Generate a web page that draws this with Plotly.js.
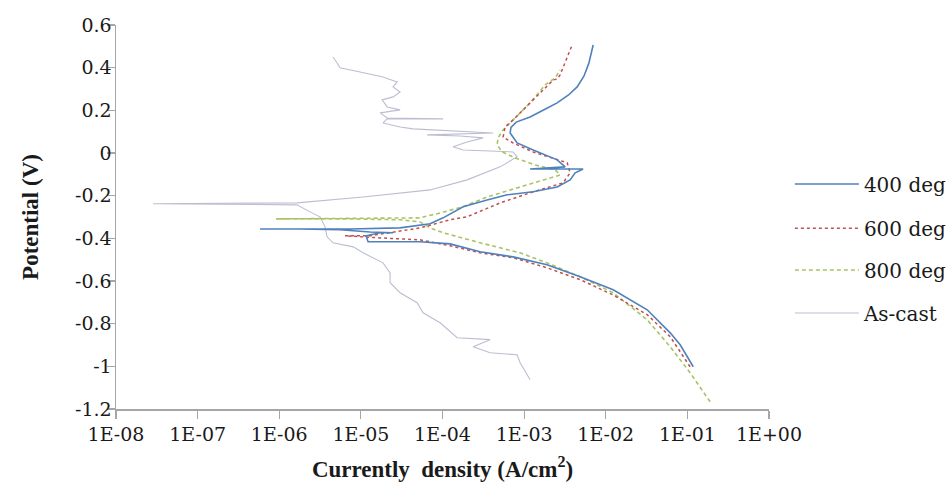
<!DOCTYPE html>
<html>
<head>
<meta charset="utf-8">
<script src="https://cdn.plot.ly/plotly-3.0.1.min.js"></script>
<style>html,body{margin:0;padding:0;background:#fff;}#chart{width:949px;height:487px;}</style>
</head>
<body>
<div id="chart"></div>
<script>
// Current density (A/cm2) and potential (V)
var i400 = [0.118, 8.16e-2, 6.16e-2, 3.22e-2, 1.232e-2, 4.86e-3, 1.91e-3, 7.33e-4, 2.89e-4, 1.239e-4, 5.31e-5, 2.28e-5, 1.225e-5, 1.158e-5, 1.72e-5, 2.48e-5, 1.296e-5, 5.56e-6, 1.80e-6, 5.82e-7, 7.38e-6, 3.02e-5, 7.05e-5, 1.017e-4, 1.79e-4, 3.52e-4, 6.19e-4, 1.289e-3, 2.54e-3, 3.66e-3, 4.22e-3, 5.28e-3, 1.184e-3, 3.18e-3, 2.54e-3, 1.289e-3, 8.21e-4, 6.74e-4, 6.90e-4, 8.00e-4, 1.184e-3, 1.80e-3, 2.54e-3, 3.50e-3, 4.46e-3, 5.40e-3, 6.20e-3, 7.01e-3];
var e400 = [-1.002, -0.899, -0.843, -0.735, -0.641, -0.580, -0.524, -0.487, -0.463, -0.426, -0.416, -0.416, -0.416, -0.388, -0.374, -0.374, -0.370, -0.360, -0.356, -0.356, -0.356, -0.351, -0.332, -0.304, -0.252, -0.220, -0.196, -0.182, -0.159, -0.126, -0.093, -0.075, -0.075, -0.065, -0.032, 0.014, 0.047, 0.094, 0.120, 0.145, 0.169, 0.205, 0.235, 0.272, 0.310, 0.360, 0.420, 0.506];

var i600 = [0.108, 6.16e-2, 3.22e-2, 1.232e-2, 4.86e-3, 1.91e-3, 7.33e-4, 2.89e-4, 1.239e-4, 5.31e-5, 1.72e-5, 7.38e-6, 6.40e-6, 1.296e-5, 2.28e-5, 5.31e-5, 1.239e-4, 2.00e-4, 5.08e-4, 1.289e-3, 3.00e-3, 3.66e-3, 3.37e-3, 1.289e-3, 7.33e-4, 5.53e-4, 5.85e-4, 7.33e-4, 1.289e-3, 1.81e-3, 2.27e-3, 2.54e-3, 2.76e-3, 3.27e-3, 3.87e-3];
var e600 = [-1.002, -0.861, -0.758, -0.665, -0.594, -0.538, -0.491, -0.468, -0.435, -0.407, -0.398, -0.388, -0.388, -0.388, -0.374, -0.351, -0.313, -0.299, -0.234, -0.182, -0.140, -0.093, -0.046, 0.005, 0.047, 0.075, 0.122, 0.155, 0.249, 0.305, 0.342, 0.347, 0.366, 0.436, 0.506];

var i800 = [0.190, 0.108, 6.16e-2, 3.22e-2, 1.232e-2, 4.86e-3, 1.91e-3, 8.93e-4, 2.89e-4, 1.017e-4, 7.05e-5, 5.31e-5, 3.02e-5, 7.38e-6, 9.14e-7, 5.31e-5, 9.35e-5, 1.79e-4, 3.52e-4, 8.21e-4, 1.81e-3, 2.76e-3, 2.40e-3, 1.364e-3, 7.76e-4, 5.38e-4, 4.67e-4, 4.80e-4, 5.53e-4, 7.76e-4, 1.184e-3, 1.81e-3, 2.40e-3, 2.76e-3];
var e800 = [-1.166, -1.030, -0.908, -0.782, -0.655, -0.580, -0.515, -0.468, -0.421, -0.374, -0.351, -0.323, -0.313, -0.309, -0.309, -0.304, -0.281, -0.252, -0.206, -0.163, -0.126, -0.103, -0.079, -0.056, -0.023, 0.005, 0.038, 0.071, 0.108, 0.164, 0.235, 0.319, 0.352, 0.389];

var iCast = [1.184e-3, 8.93e-4, 8.21e-4, 3.83e-4, 2.37e-4, 3.83e-4, 1.51e-4, 9.35e-5, 5.79e-5, 4.88e-5, 3.02e-5, 2.28e-5, 2.28e-5, 1.87e-5, 1.064e-5, 8.03e-6, 4.56e-6, 3.85e-6, 3.64e-6, 3.16e-6, 2.38e-6, 1.65e-6, 2.84e-8, 1.65e-6, 1.064e-5, 7.05e-5, 2.00e-4, 5.08e-4, 8.21e-4, 7.33e-4, 1.79e-4, 1.349e-4, 2.00e-4, 3.14e-4, 1.64e-4, 6.48e-5, 4.17e-4, 4.36e-5, 3.02e-5, 1.87e-5, 2.10e-5, 1.017e-4, 2.10e-5, 1.72e-5, 3.02e-5, 2.10e-5, 1.82e-5, 2.48e-5, 3.02e-5, 2.48e-5, 2.78e-5, 1.87e-5, 9.78e-6, 5.56e-6, 5.11e-6, 4.56e-6];
var eCast = [-1.063, -0.983, -0.946, -0.936, -0.908, -0.875, -0.866, -0.796, -0.749, -0.702, -0.655, -0.608, -0.562, -0.515, -0.468, -0.440, -0.421, -0.393, -0.346, -0.299, -0.276, -0.243, -0.238, -0.234, -0.206, -0.173, -0.126, -0.065, -0.018, 0.005, 0.014, 0.029, 0.052, 0.071, 0.080, 0.085, 0.094, 0.113, 0.122, 0.141, 0.160, 0.160, 0.164, 0.188, 0.202, 0.216, 0.249, 0.263, 0.286, 0.310, 0.333, 0.356, 0.380, 0.399, 0.422, 0.450];

var seriesNames = ['400 deg', '600 deg', '800 deg', 'As-cast'];
var xTickVals = [1e-8, 1e-7, 1e-6, 1e-5, 1e-4, 1e-3, 1e-2, 1e-1, 1];
var xTickText = ['1E-08', '1E-07', '1E-06', '1E-05', '1E-04', '1E-03', '1E-02', '1E-01', '1E+00'];
var yTickVals = [0.6, 0.4, 0.2, 0, -0.2, -0.4, -0.6, -0.8, -1, -1.2];
var yTickText = ['0.6', '0.4', '0.2', '0', '-0.2', '-0.4', '-0.6', '-0.8', '-1', '-1.2'];

var serif = 'Liberation Serif';
var serifReg = 'DejaVu Serif';
var txt = '#1a1a1a';

var traces = [
  {x: iCast, y: eCast, name: seriesNames[3], mode: 'lines', legend: 'legend4',
   line: {color: '#BDBDD2', width: 1.1}},
  {x: i800, y: e800, name: seriesNames[2], mode: 'lines', legend: 'legend3',
   line: {color: '#A8C466', width: 1.6, dash: '4px,3px'}},
  {x: i600, y: e600, name: seriesNames[1], mode: 'lines', legend: 'legend2',
   line: {color: '#C0504D', width: 1.5, dash: 'dot'}},
  {x: i400, y: e400, name: seriesNames[0], mode: 'lines', legend: 'legend',
   line: {color: '#4F81BD', width: 1.6}}
];

function leg(yv) {
  return {x: 1.032, xanchor: 'left', y: yv, yanchor: 'middle', bgcolor: 'rgba(0,0,0,0)',
          borderwidth: 0, itemwidth: 64, font: {family: serifReg, size: 20, color: txt}};
}

var layout = {
  width: 949, height: 487,
  font: {family: serifReg, color: txt},
  margin: {l: 116, r: 180, t: 25, b: 78, pad: 0, autoexpand: false},
  paper_bgcolor: '#fff', plot_bgcolor: '#fff',
  showlegend: true,
  legend: leg(0.586), legend2: leg(0.471), legend3: leg(0.362), legend4: leg(0.25),
  xaxis: {
    type: 'log', range: [-8, 0], tickvals: xTickVals, ticktext: xTickText,
    ticks: 'outside', ticklen: 8, tickcolor: '#A6A6A6', tickwidth: 1.2,
    showline: true, linecolor: '#A6A6A6', linewidth: 1.5, showgrid: false, zeroline: false,
    tickfont: {family: serifReg, size: 19, color: txt},
    title: {text: '<b>Currently  density (A/cm<sup>2</sup>)</b>', font: {family: serif, size: 23, color: txt}, standoff: 16}
  },
  yaxis: {
    range: [-1.2, 0.6], tickvals: yTickVals, ticktext: yTickText,
    ticks: 'outside', ticklen: 8, tickcolor: '#A6A6A6', tickwidth: 1.2,
    showline: true, linecolor: '#A6A6A6', linewidth: 1.5, showgrid: false, zeroline: false,
    ticklabelstandoff: -9,
    tickfont: {family: serifReg, size: 19, color: txt},
    title: {text: '<b>Potential (V)</b>', font: {family: serif, size: 23, color: txt}, standoff: 30}
  }
};

Plotly.newPlot('chart', traces, layout, {displayModeBar: false, staticPlot: true});
</script>
</body>
</html>
